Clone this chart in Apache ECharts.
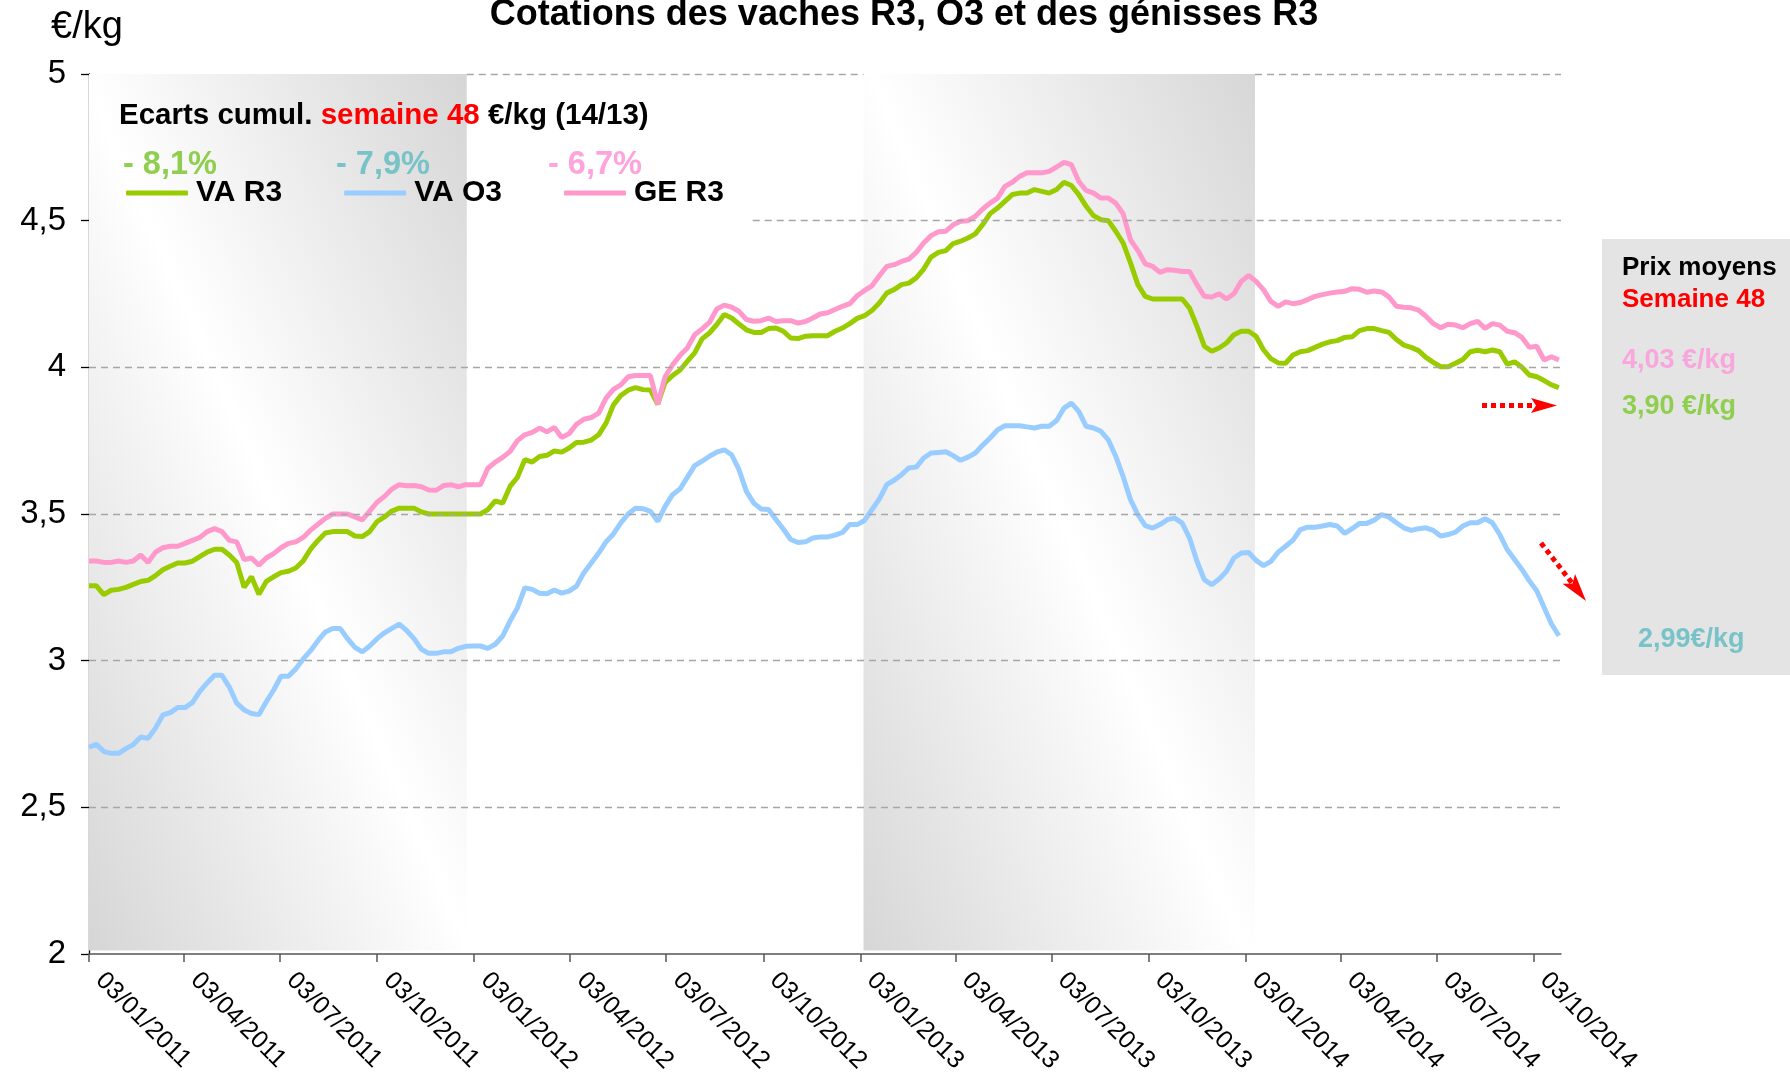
<!DOCTYPE html>
<html>
<head>
<meta charset="utf-8">
<script src="https://cdn.jsdelivr.net/npm/echarts@6/dist/echarts.min.js"></script>
<style>
html,body{margin:0;padding:0;background:#fff;}
#chart{width:1790px;height:1083px;}
</style>
</head>
<body>
<div id="chart"></div>
<script>
// ---------------- DATA ----------------
const startDate = '2011-01-03';           // first weekly quotation
const tickLabels = ['03/01/2011','03/04/2011','03/07/2011','03/10/2011',
  '03/01/2012','03/04/2012','03/07/2012','03/10/2012',
  '03/01/2013','03/04/2013','03/07/2013','03/10/2013',
  '03/01/2014','03/04/2014','03/07/2014','03/10/2014'];
const yTicks = [2, 2.5, 3, 3.5, 4, 4.5, 5];

const seriesNames = ['VA R3', 'VA O3', 'GE R3'];

const vaR3 = [
 3.255,3.255,3.225,3.24,3.243,3.25,3.26,3.27,3.274,3.29,3.31,3.322,3.333,3.333,3.339,3.355,3.37,3.38,3.38,3.36,
 3.335,3.25,3.286,3.226,3.27,3.286,3.30,3.305,3.316,3.34,3.38,3.41,3.435,3.44,3.44,3.44,3.425,3.423,3.44,3.474,
 3.49,3.51,3.52,3.52,3.52,3.507,3.50,3.50,3.50,3.50,3.50,3.50,3.50,3.50,3.515,3.545,3.537,3.594,3.625,3.685,
 3.677,3.696,3.70,3.715,3.711,3.725,3.744,3.745,3.752,3.77,3.81,3.872,3.904,3.922,3.931,3.924,3.923,3.874,3.949,3.972,
 3.99,4.02,4.049,4.097,4.117,4.146,4.18,4.168,4.148,4.128,4.119,4.119,4.132,4.134,4.123,4.10,4.098,4.106,4.108,4.108,
 4.108,4.123,4.134,4.149,4.167,4.176,4.194,4.219,4.253,4.265,4.282,4.287,4.305,4.335,4.376,4.392,4.398,4.422,4.43,4.441,
 4.455,4.487,4.524,4.543,4.566,4.589,4.594,4.594,4.606,4.60,4.594,4.606,4.631,4.62,4.589,4.549,4.517,4.503,4.50,4.464,
 4.424,4.356,4.282,4.242,4.233,4.233,4.233,4.233,4.233,4.202,4.14,4.072,4.055,4.066,4.083,4.111,4.123,4.123,4.106,4.06,
 4.03,4.015,4.014,4.042,4.053,4.057,4.068,4.079,4.087,4.091,4.102,4.104,4.125,4.132,4.132,4.125,4.119,4.095,4.076,4.068,
 4.057,4.034,4.017,4.002,4.002,4.014,4.027,4.053,4.058,4.053,4.059,4.053,4.011,4.019,4.00,3.974,3.968,3.955,3.94,3.931
];
const vaO3 = [
 2.705,2.715,2.69,2.684,2.684,2.70,2.714,2.74,2.735,2.77,2.815,2.823,2.84,2.84,2.857,2.895,2.924,2.95,2.95,2.91,
 2.855,2.832,2.82,2.816,2.86,2.90,2.947,2.947,2.972,3.006,3.034,3.068,3.098,3.11,3.11,3.075,3.045,3.03,3.05,3.075,
 3.095,3.11,3.124,3.103,3.075,3.039,3.025,3.025,3.03,3.03,3.042,3.049,3.05,3.05,3.042,3.056,3.084,3.135,3.18,3.248,
 3.243,3.23,3.228,3.241,3.23,3.237,3.254,3.30,3.333,3.367,3.405,3.432,3.47,3.50,3.52,3.518,3.509,3.475,3.526,3.566,
 3.585,3.625,3.665,3.68,3.697,3.711,3.719,3.702,3.651,3.577,3.537,3.517,3.515,3.481,3.449,3.413,3.403,3.405,3.418,3.422,
 3.422,3.428,3.437,3.464,3.464,3.478,3.515,3.551,3.60,3.615,3.634,3.657,3.66,3.691,3.708,3.71,3.712,3.699,3.683,3.694,
 3.708,3.735,3.759,3.787,3.801,3.801,3.801,3.797,3.793,3.799,3.799,3.819,3.861,3.878,3.85,3.799,3.793,3.782,3.753,3.697,
 3.628,3.549,3.498,3.46,3.452,3.464,3.481,3.486,3.469,3.418,3.339,3.276,3.259,3.278,3.305,3.35,3.367,3.369,3.342,3.324,
 3.338,3.37,3.39,3.411,3.447,3.455,3.455,3.459,3.464,3.459,3.434,3.45,3.468,3.468,3.479,3.498,3.489,3.47,3.453,3.444,
 3.45,3.453,3.444,3.425,3.43,3.438,3.459,3.47,3.47,3.484,3.47,3.43,3.379,3.345,3.311,3.272,3.238,3.181,3.125,3.085
];
const geR3 = [
 3.34,3.34,3.335,3.335,3.34,3.335,3.34,3.36,3.335,3.37,3.385,3.39,3.39,3.40,3.41,3.42,3.44,3.45,3.44,3.41,
 3.405,3.345,3.35,3.325,3.35,3.365,3.385,3.40,3.405,3.42,3.445,3.465,3.485,3.50,3.50,3.50,3.49,3.48,3.51,3.54,
 3.56,3.585,3.60,3.596,3.597,3.593,3.582,3.581,3.597,3.60,3.593,3.60,3.60,3.60,3.656,3.677,3.693,3.713,3.75,3.77,
 3.778,3.793,3.78,3.795,3.761,3.774,3.806,3.823,3.829,3.844,3.895,3.925,3.94,3.968,3.972,3.972,3.972,3.875,3.968,4.008,
 4.04,4.066,4.111,4.131,4.153,4.199,4.212,4.205,4.191,4.163,4.157,4.159,4.168,4.156,4.159,4.159,4.151,4.156,4.168,4.182,
 4.186,4.197,4.208,4.217,4.244,4.262,4.278,4.312,4.344,4.35,4.361,4.369,4.392,4.424,4.449,4.462,4.464,4.486,4.498,4.50,
 4.515,4.54,4.56,4.577,4.617,4.631,4.651,4.663,4.663,4.663,4.668,4.683,4.699,4.691,4.634,4.603,4.594,4.577,4.577,4.56,
 4.524,4.435,4.398,4.353,4.344,4.324,4.333,4.331,4.327,4.327,4.282,4.242,4.24,4.251,4.233,4.251,4.293,4.313,4.293,4.265,
 4.225,4.208,4.223,4.217,4.221,4.231,4.242,4.248,4.253,4.257,4.259,4.268,4.266,4.256,4.26,4.257,4.24,4.208,4.205,4.203,
 4.195,4.174,4.149,4.135,4.147,4.144,4.135,4.149,4.157,4.133,4.149,4.144,4.123,4.118,4.102,4.068,4.072,4.025,4.036,4.025
];
const pctLabels = ['- 8,1%', '- 7,9%', '- 6,7%'];
const priceLabels = ['4,03 €/kg', '3,90 €/kg', '2,99€/kg'];
// shaded periods (day offsets from startDate)
const shadedPeriods = [[0, 358], [734, 1105]];

// ---------------- BUILD ----------------
const DAY = 86400000;
function parseDMY(s){const p=s.split('/');return Date.UTC(+p[2],+p[1]-1,+p[0]);}
const t0 = Date.parse(startDate + 'T00:00:00Z');
const tickDays = tickLabels.map(s => Math.round((parseDMY(s)-t0)/DAY));
const labelByDay = {};
tickDays.forEach((d,i)=>labelByDay[d]=tickLabels[i]);
const toPairs = arr => arr.map((v,i)=>[i*7, v]);

const FONT = 'Liberation Sans, Arial, sans-serif';
const colors = ['#99cc00', '#99ccff', '#ff99cc'];
const pctColors = ['#8fce4f', '#78c3c8', '#ffa3dc'];
const XMAX = 1395;

function boxGrad(){
  return new echarts.graphic.LinearGradient(-0.34, 0.66, 1.34, 0.34, [
    {offset:0, color:'#d6d6d6'},{offset:0.5, color:'#ffffff'},{offset:1, color:'#d6d6d6'}]);
}
const gridStyle = {type:[7,5], color:'#a6a6a6', width:1.3};

const chart = echarts.init(document.getElementById('chart'), null, {renderer:'canvas'});
const option = {
  animation:false,
  backgroundColor:'#ffffff',
  grid:{left:89, right:229, top:74, bottom:129, containLabel:false},
  xAxis:{
    type:'value', min:0, max:XMAX,
    splitLine:{show:false},
    axisLine:{show:true, onZero:false, lineStyle:{color:'#555555', width:1.5}},
    axisTick:{show:true, customValues:tickDays, length:8, lineStyle:{color:'#555555', width:1.5}},
    axisLabel:{customValues:tickDays, rotate:-45, margin:12, padding:[0,0,0,15], fontSize:25, color:'#000',
      fontFamily:FONT, formatter:v=>labelByDay[v]||''}
  },
  yAxis:{
    type:'value', min:2, max:5, interval:0.5,
    splitLine:{show:false},
    axisLine:{show:true, lineStyle:{color:'#000', width:1.3}},
    axisTick:{show:true, length:8, lineStyle:{color:'#000', width:1.3}},
    axisLabel:{margin:23, fontSize:33, color:'#000', fontFamily:FONT,
      formatter:v=>String(v).replace('.', ',')}
  },
  legend:{
    left:121, top:173, itemWidth:62, itemHeight:5, itemGap:62, icon:'roundRect',
    data:seriesNames,
    textStyle:{fontSize:30, fontWeight:'bold', color:'#000', fontFamily:FONT, padding:[0,0,0,3]}
  },
  series:[
    {type:'line', name:'_areas', data:[], silent:true, z:1,
      markArea:{silent:true, label:{show:false},
        data:shadedPeriods.map(p=>[{xAxis:p[0], yAxis:2.012, itemStyle:{color:boxGrad(), opacity:1}},{xAxis:p[1], yAxis:5.003}])}
    },
    {type:'line', name:'_grid', data:[], silent:true, z:2,
      markLine:{silent:true, symbol:['none','none'], label:{show:false}, lineStyle:gridStyle,
        data:[
          {yAxis:2.5},{yAxis:3},{yAxis:3.5},{yAxis:4},
          [{coord:[629,4.5]},{coord:[XMAX,4.5]}],
          [{coord:[shadedPeriods[0][1],5]},{coord:[shadedPeriods[1][0],5]}],
          [{coord:[shadedPeriods[1][1],5]},{coord:[XMAX,5]}]
        ]}
    },
    {type:'line', name:seriesNames[0], data:toPairs(vaR3), showSymbol:false, symbol:'none', z:3,
      color:colors[0], lineStyle:{width:5, color:colors[0]}},
    {type:'line', name:seriesNames[1], data:toPairs(vaO3), showSymbol:false, symbol:'none', z:3,
      color:colors[1], lineStyle:{width:5, color:colors[1]}},
    {type:'line', name:seriesNames[2], data:toPairs(geR3), showSymbol:false, symbol:'none', z:3,
      color:colors[2], lineStyle:{width:5, color:colors[2]}}
  ],
  graphic:[
    {type:'text', x:904, y:15, z:10, style:{text:'Cotations des vaches R3, O3 et des génisses R3',
      font:'bold 36px '+FONT, fill:'#000', align:'center', verticalAlign:'middle'}},
    {type:'text', x:51, y:28, z:10, style:{text:'€/kg', font:'38px '+FONT, fill:'#000', align:'left', verticalAlign:'middle'}},
    {type:'text', x:119, y:116, z:10, style:{
      text:'{a|Ecarts cumul. }{b|semaine 48}{a| €/kg (14/13)}', align:'left', verticalAlign:'middle',
      rich:{a:{font:'bold 29.5px '+FONT, fill:'#000'}, b:{font:'bold 29.5px '+FONT, fill:'#ff0000'}}}},
    {type:'text', x:123, y:165, z:10, style:{text:pctLabels[0], font:'bold 32.5px '+FONT, fill:pctColors[0], align:'left', verticalAlign:'middle'}},
    {type:'text', x:336, y:165, z:10, style:{text:pctLabels[1], font:'bold 32.5px '+FONT, fill:pctColors[1], align:'left', verticalAlign:'middle'}},
    {type:'text', x:548, y:165, z:10, style:{text:pctLabels[2], font:'bold 32.5px '+FONT, fill:pctColors[2], align:'left', verticalAlign:'middle'}},
    // right panel
    {type:'rect', x:1602, y:239, z:5, shape:{width:188, height:436}, style:{fill:'#e4e4e4'}},
    {type:'text', x:1622, y:268, z:10, style:{text:'Prix moyens', font:'bold 26px '+FONT, fill:'#000', align:'left', verticalAlign:'middle'}},
    {type:'text', x:1622, y:300, z:10, style:{text:'Semaine 48', font:'bold 26px '+FONT, fill:'#ff0000', align:'left', verticalAlign:'middle'}},
    {type:'text', x:1622, y:361, z:10, style:{text:priceLabels[0], font:'bold 27px '+FONT, fill:'#f9a6dc', align:'left', verticalAlign:'middle'}},
    {type:'text', x:1622, y:407, z:10, style:{text:priceLabels[1], font:'bold 27px '+FONT, fill:'#8fce4f', align:'left', verticalAlign:'middle'}},
    {type:'text', x:1638, y:640, z:10, style:{text:priceLabels[2], font:'bold 27px '+FONT, fill:'#78c3c8', align:'left', verticalAlign:'middle'}},
    // red dotted arrows
    {type:'polyline', z:10, shape:{points:[[1482,405.5],[1534,405.5]]}, style:{stroke:'#ff0000', lineWidth:5, lineDash:[5,4], fill:null}},
    {type:'polygon', z:10, shape:{points:[[1531,398],[1557,405.5],[1531,413],[1536,405.5]]}, style:{fill:'#ff0000'}},
    {type:'polyline', z:10, shape:{points:[[1541,543],[1572,583]]}, style:{stroke:'#ff0000', lineWidth:5, lineDash:[5,4], fill:null}},
    {type:'polygon', z:10, shape:{points:[[1562.5,583.8],[1586,601],[1575.1,574],[1572.5,583.6]]}, style:{fill:'#ff0000'}}
  ]
};
chart.setOption(option);
</script>
</body>
</html>
